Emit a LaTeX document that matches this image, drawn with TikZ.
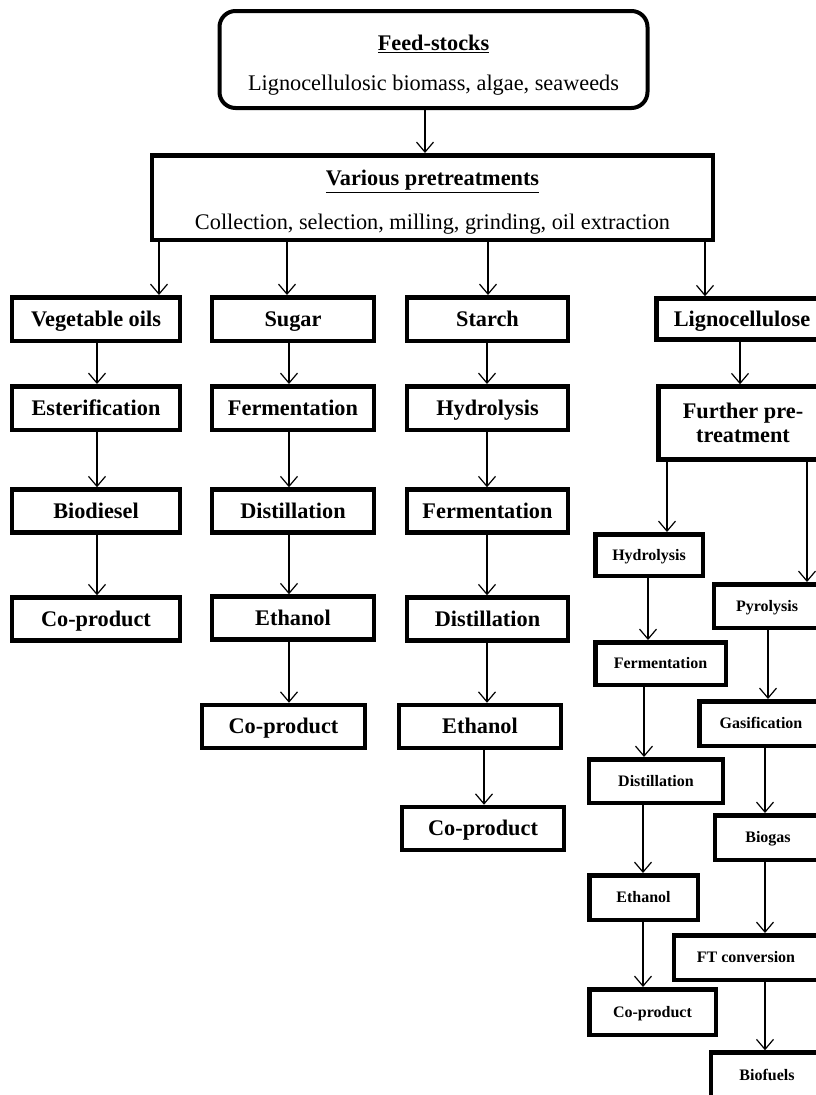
\documentclass[tikz,border=0pt]{standalone}
\usepackage{fontspec}
\setmainfont{Liberation Serif}
\usetikzlibrary{arrows.meta}
\newcommand\varrow[3]{\coordinate (xa) at (#1,0); \draw[arr] (#2.south -| xa) -- (#3.north -| xa);}
\begin{document}
\begin{tikzpicture}[x=1pt,y=-1pt,
 basebox/.style={draw, line width=4.5pt, fill=white, inner sep=0pt, font=\fontsize{22.3}{24}\selectfont\bfseries, align=center},
 bigbox/.style={basebox, text height=17pt, text depth=3pt},
 smallbox/.style={draw, line width=4.5pt, fill=white, inner sep=0pt, font=\fontsize{16}{18}\selectfont\bfseries, align=center, text height=12.5pt, text depth=2pt},
 plainbox/.style={draw, line width=4.5pt, fill=white, inner sep=0pt, font=\fontsize{22.3}{26}\selectfont, align=center},
 arr/.style={line width=1.2pt, -{Straight Barb[length=10pt,width=17pt,line width=1.2pt]}}]
\clip (0,0) rectangle (816,1095);
\fill[white] (0,0) rectangle (816,1095);
% top
\node[plainbox, rounded corners=16pt, line width=4pt, minimum width=428pt, minimum height=97pt] (feed) at (433.5,59.5) {\rule{0pt}{26pt}\textbf{\underline{Feed-stocks}}\\[14pt]Lignocellulosic biomass, algae, seaweeds};
\node[plainbox, minimum width=561pt, minimum height=84.5pt] (pre) at (432.5,197.5) {\rule{0pt}{25pt}\textbf{\underline{Various pretreatments}}\\[18pt]Collection, selection, milling, grinding, oil extraction};
% row 1
\node[bigbox, minimum width=168pt, minimum height=43.5pt] (veg) at (96,319) {Vegetable oils};
\node[bigbox, minimum width=162pt, minimum height=43.5pt] (sug) at (293,319) {Sugar};
\node[bigbox, minimum width=161pt, minimum height=43.5pt] (sta) at (487.5,319) {Starch};
\node[bigbox, minimum width=171pt, minimum height=41pt] (lig) at (742,319) {Lignocellulose};
% row 2
\node[bigbox, minimum width=168pt, minimum height=43.5pt] (est) at (96,408) {Esterification};
\node[bigbox, minimum width=162pt, minimum height=43.5pt] (fer1) at (293,408) {Fermentation};
\node[bigbox, minimum width=161pt, minimum height=43.5pt] (hyd1) at (487.5,408) {Hydrolysis};
\node[basebox, minimum width=169pt, minimum height=73pt] (fur) at (743,423) {Further pre-\\treatment};
% row 3
\node[bigbox, minimum width=168pt, minimum height=43pt] (bio) at (96,511) {Biodiesel};
\node[bigbox, minimum width=162pt, minimum height=43pt] (dis1) at (293,511) {Distillation};
\node[bigbox, minimum width=161pt, minimum height=43pt] (fer2) at (487.5,511) {Fermentation};
% row 4
\node[bigbox, minimum width=168pt, minimum height=43pt] (cop1) at (96,619) {Co-product};
\node[bigbox, minimum width=162pt, minimum height=43pt] (eth1) at (293,618) {Ethanol};
\node[bigbox, minimum width=161pt, minimum height=43pt] (dis2) at (487.5,619) {Distillation};
% row 5
\node[bigbox, minimum width=163pt, minimum height=43pt] (cop2) at (283.5,726.5) {Co-product};
\node[bigbox, minimum width=162pt, minimum height=43pt] (eth2) at (480,726.5) {Ethanol};
% row 6
\node[bigbox, minimum width=162pt, minimum height=43pt] (cop3) at (483,828.5) {Co-product};
% lignocellulose branch
\node[smallbox, minimum width=107.5pt, minimum height=41.5pt] (hyd2) at (649,555) {Hydrolysis};
\node[smallbox, minimum width=106pt, minimum height=43.5pt] (pyr) at (767,606) {Pyrolysis};
\node[smallbox, minimum width=130.5pt, minimum height=42.5pt] (fer3) at (660.5,663.5) {Fermentation};
\node[smallbox, minimum width=123pt, minimum height=44.5pt] (gas) at (761,723.5) {Gasification};
\node[smallbox, minimum width=134pt, minimum height=43.5pt] (dis3) at (656,781) {Distillation};
\node[smallbox, minimum width=106pt, minimum height=44.5pt] (bgs) at (768,837.5) {Biogas};
\node[smallbox, minimum width=108.5pt, minimum height=44.5pt] (eth3) at (643.5,897.5) {Ethanol};
\node[smallbox, minimum width=144pt, minimum height=44.5pt] (ftc) at (746,957.5) {FT conversion};
\node[smallbox, minimum width=126.5pt, minimum height=45.5pt] (cop4) at (652.5,1012) {Co-product};
\node[smallbox, minimum width=112pt, minimum height=45pt] (bfu) at (767,1075) {Biofuels};
% connectors
\varrow{425}{feed}{pre}
\varrow{159}{pre}{veg}
\varrow{287}{pre}{sug}
\varrow{488}{pre}{sta}
\varrow{705}{pre}{lig}
\varrow{97}{veg}{est}
\varrow{97}{est}{bio}
\varrow{97}{bio}{cop1}
\varrow{289}{sug}{fer1}
\varrow{289}{fer1}{dis1}
\varrow{289}{dis1}{eth1}
\varrow{289}{eth1}{cop2}
\varrow{487}{sta}{hyd1}
\varrow{487}{hyd1}{fer2}
\varrow{487}{fer2}{dis2}
\varrow{487}{dis2}{eth2}
\varrow{484}{eth2}{cop3}
\varrow{740}{lig}{fur}
\varrow{667}{fur}{hyd2}
\varrow{807}{fur}{pyr}
\varrow{648}{hyd2}{fer3}
\varrow{768}{pyr}{gas}
\varrow{644}{fer3}{dis3}
\varrow{765}{gas}{bgs}
\varrow{643}{dis3}{eth3}
\varrow{765}{bgs}{ftc}
\varrow{643}{eth3}{cop4}
\varrow{765}{ftc}{bfu}
\end{tikzpicture}
\end{document}
